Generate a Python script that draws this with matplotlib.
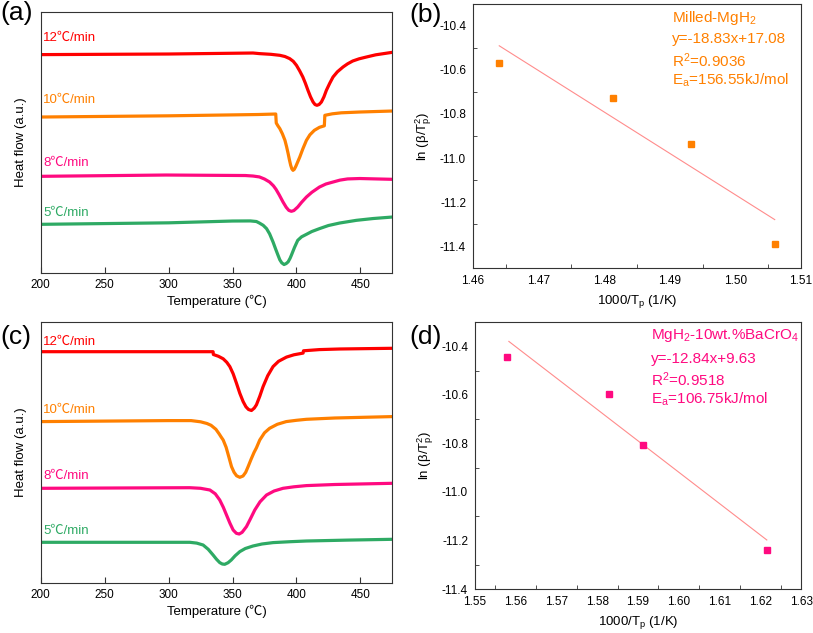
import matplotlib
matplotlib.use('Agg')
import matplotlib.pyplot as plt
from matplotlib.ticker import MultipleLocator

plt.rcParams['font.family'] = ['Liberation Sans', 'Noto Sans CJK SC', 'DejaVu Sans']
plt.rcParams['mathtext.fontset'] = 'custom'
plt.rcParams['mathtext.rm'] = 'Liberation Sans'
plt.rcParams['mathtext.it'] = 'Liberation Sans'
plt.rcParams['axes.edgecolor'] = '#333333'

# cores das curvas
cores = ['#FF0000', '#FF8000', '#FF0A80', '#2EAA64']
rotulos = ['12℃/min', '10℃/min', '8℃/min', '5℃/min']

# (a) DSC do MgH2 moído - temperatura (℃) e fluxo de calor (u.a.)
a_12_t = [200, 250, 300, 366, 371, 380, 387, 391, 394.7, 397.5, 400, 402.5, 405, 407, 409, 411, 413, 414.5,
          416, 417.7, 419.5, 421.5, 423.4, 426, 428.6, 432, 436.4, 440, 444, 449, 454.7, 462, 475]
a_12_y = [218.7, 219, 219.3, 220.3, 219.7, 219, 218, 216.8, 214.7, 212, 208, 202.5, 196.3, 190, 183, 176.5, 171.3, 168.8,
          168, 168.8, 171.3, 176.5, 183, 190, 196.3, 201.5, 206.3, 209.5, 212.3, 214.5, 216.3, 218.5, 221]
a_10_t = [200, 300, 370, 383.8, 384.2, 385.5, 387, 389, 391, 392.3, 393.5, 394.5, 395.5, 396.4, 397.3, 398.3, 399.5,
          401, 402.6, 405, 407.8, 410.5, 414, 418, 421.8, 422.2, 428, 435, 449.5, 475]
a_10_y = [156.3, 157.5, 158.8, 159.3, 150.3, 147.5, 144.7, 139.5, 133, 126.5, 119.7, 113.5, 108, 104.5, 103, 104, 107,
          111.5, 116.3, 124.5, 133, 138.5, 143, 146, 147.5, 158, 159.5, 160.5, 161.3, 162.3]
a_8_t = [200, 298, 360, 366, 371, 375, 379, 382, 384, 386.5, 389.5, 392, 394, 396, 398, 401, 404, 407.8, 412, 418,
         423, 428.6, 434, 440, 449.5, 475]
a_8_y = [97, 98.3, 97.8, 97.3, 96.4, 94.3, 91.3, 87.5, 84, 78.5, 71.3, 66, 63, 62, 62.8, 66.3, 71, 76.3, 81, 86.3,
         89.3, 91.3, 93.2, 94.4, 94.8, 94]
a_5_t = [200, 300, 350, 364, 368.7, 371, 374, 376.6, 379, 381.7, 383.8, 385.6, 387, 388.5, 390.3, 392, 393.5, 395,
         396, 398.5, 401, 404, 407.8, 412, 418, 425, 433.8, 446.9, 460, 475]
a_5_y = [49, 50.5, 52.3, 52.4, 51.8, 50.3, 48, 44.7, 39.5, 31.3, 24, 18, 13.5, 10.5, 8.8, 9.8, 11.5, 15,
         18, 26, 33, 36.5, 39, 41.8, 44.7, 47.8, 50.3, 53, 54.8, 56.3]

# (c) DSC do MgH2-10wt.%BaCrO4
c_12_t = [200, 300, 334.8, 335, 339, 342.7, 345.5, 347.9, 350.5, 353.1, 355.7, 358.3, 360.5, 362.5, 364.8, 367,
          368.7, 371.3, 373.9, 377.5, 381.7, 386, 392.2, 398, 405.2, 405.5, 418, 433.8, 475]
c_12_y = [231.6, 231.6, 231.6, 228.8, 227, 224.5, 221, 216.7, 209.5, 200, 190, 181.7, 176.5, 173.8, 172.8, 175.2,
          178.5, 187, 196.7, 207.5, 216.7, 222, 226.2, 228.5, 230.2, 232.5, 233.7, 234.3, 235]
c_10_t = [200, 300, 317.6, 325, 330, 333.2, 337, 339.5, 341, 342.7, 345, 347.2, 349.2, 351.2, 353.2, 355.7, 358.2,
          360.3, 362.2, 364.5, 366.8, 368.7, 371.3, 375, 379, 385, 392, 400, 407.8, 430, 475]
c_10_y = [161.7, 162.7, 162.7, 161.5, 159.8, 158, 154, 149.5, 146.5, 143.3, 136, 126, 116.7, 111, 107.5, 106, 107.3,
          111, 116.7, 124, 130.8, 135.5, 143.3, 150.5, 155, 159, 161.7, 163, 164, 165.3, 166.7]
c_8_t = [200, 316.6, 325, 332.3, 336.5, 340, 342.8, 345.3, 348, 350.5, 353, 355.2, 357.5, 360.9, 364, 367.4, 371.5,
         376.6, 382.5, 389.5, 398, 407.8, 430, 475]
c_8_y = [95, 95.6, 95, 93.3, 89.5, 83.3, 76, 68.3, 60, 53.3, 50, 49.3, 51, 56.7, 64.5, 73.3, 81.5,
         88.3, 92.3, 95, 96.5, 97.7, 98.8, 100]
c_5_t = [200, 316.6, 322, 327, 331, 334.8, 337.5, 340, 342, 343.9, 346.5, 349, 352, 355.7, 360, 366, 373, 381.7,
         395, 407.8, 440, 475]
c_5_y = [41, 41, 40.2, 38.3, 34, 28.3, 24, 20.7, 19.3, 19, 20.6, 23.3, 27.5, 31.7, 34.8, 37.3, 39.3, 40.7,
         41.6, 42.3, 43.2, 44]

# (b) Kissinger - MgH2 moído
b_x = [1.4640, 1.4813, 1.4933, 1.5061]
b_y = [-10.57, -10.729, -10.935, -11.389]
b_ajuste_x = [1.464, 1.506]
b_ajuste_y = [-10.49, -11.28]
b_textos = ['Milled-MgH$_2$', 'y=-18.83x+17.08', 'R$^2$=0.9036', 'E$_a$=156.55kJ/mol']

# (d) Kissinger - MgH2-10wt.%BaCrO4
d_x = [1.5578, 1.5829, 1.5912, 1.6216]
d_y = [-10.445, -10.595, -10.808, -11.241]
d_ajuste_x = [1.5583, 1.6216]
d_ajuste_y = [-10.38, -11.198]
d_textos = ['MgH$_2$-10wt.%BaCrO$_4$', 'y=-12.84x+9.63', 'R$^2$=0.9518', 'E$_a$=106.75kJ/mol']

fig = plt.figure(figsize=(8.13, 6.33), dpi=100)

ax_a = fig.add_axes([0.0501, 0.5682, 0.4325, 0.4133])
ax_c = fig.add_axes([0.0501, 0.0785, 0.4325, 0.4133])
ax_b = fig.add_axes([0.5818, 0.5766, 0.4034, 0.4171])
ax_d = fig.add_axes([0.5843, 0.0695, 0.4010, 0.4218])


def painel_dsc(ax, curvas, pos_rotulos):
    for (t, y), cor in zip(curvas, cores):
        ax.plot(t, y, color=cor, lw=2.3, solid_capstyle='round', solid_joinstyle='round')
    for rot, yr, cor in zip(rotulos, pos_rotulos, cores):
        ax.text(201.8, yr, rot, color=cor, fontsize=9.5, va='center', ha='left')
    ax.set_xlim(200, 475)
    ax.set_ylim(0, 261.6)
    ax.set_xticks([200, 250, 300, 350, 400, 450])
    ax.set_yticks([])
    ax.tick_params(axis='x', direction='in', length=4, labelsize=8.5, color='#333333', pad=4)
    ax.set_xlabel('Temperature (℃)', fontsize=9.5, labelpad=3)
    ax.set_ylabel('Heat flow (a.u.)', fontsize=9.5, labelpad=10)


painel_dsc(ax_a, [(a_12_t, a_12_y), (a_10_t, a_10_y), (a_8_t, a_8_y), (a_5_t, a_5_y)],
           [235, 173, 110, 60])
painel_dsc(ax_c, [(c_12_t, c_12_y), (c_10_t, c_10_y), (c_8_t, c_8_y), (c_5_t, c_5_y)],
           [241, 173.3, 107.6, 52.6])


def painel_kissinger(ax, x, y, ax_x, ax_y, textos, cor, xlim, ylim, xpasso, ypasso, texto_x, texto_y):
    ax.plot(ax_x, ax_y, color='#FF8C8C', lw=0.8)
    ax.plot(x, y, 's', color=cor, ms=4.3, mec=cor)
    ax.set_xlim(*xlim)
    ax.set_ylim(*ylim)
    ax.xaxis.set_major_locator(MultipleLocator(xpasso))
    ax.xaxis.set_minor_locator(MultipleLocator(xpasso / 2))
    ax.yaxis.set_major_locator(MultipleLocator(ypasso))
    ax.yaxis.set_minor_locator(MultipleLocator(ypasso / 2))
    ax.xaxis.set_major_formatter(plt.FuncFormatter(lambda v, p: f'{v:.2f}'))
    ax.yaxis.set_major_formatter(plt.FuncFormatter(lambda v, p: f'{v:.1f}'))
    ax.tick_params(which='major', length=0, labelsize=8.5, pad=5)
    ax.tick_params(which='minor', direction='in', length=3, color='#333333')
    ax.set_xlabel('1000/T$_p$ (1/K)', fontsize=9.5, labelpad=4)
    ax.set_ylabel(r'ln (β/T$_p^2$)', fontsize=9.5, labelpad=4)
    for i, txt in enumerate(textos):
        ax.text(texto_x, texto_y[i], txt, color=cor, fontsize=11, va='center', ha='left',
                transform=ax.transAxes)


painel_kissinger(ax_b, b_x, b_y, b_ajuste_x, b_ajuste_y, b_textos, '#FF8000',
                 (1.46, 1.51), (-11.5, -10.3), 0.01, 0.2, 0.607,
                 [0.948, 0.866, 0.785, 0.712])

painel_kissinger(ax_d, d_x, d_y, d_ajuste_x, d_ajuste_y, d_textos, '#FF0A80',
                 (1.55, 1.63), (-11.4, -10.3), 0.01, 0.2, 0.54,
                 [0.948, 0.861, 0.785, 0.710])

# rótulos dos painéis
fig.text(0.0, 0.979, '(a)', fontsize=19, va='center', ha='left')
fig.text(0.504, 0.976, '(b)', fontsize=19, va='center', ha='left')
fig.text(0.0, 0.468, '(c)', fontsize=19, va='center', ha='left')
fig.text(0.504, 0.468, '(d)', fontsize=19, va='center', ha='left')

fig.savefig('out.png', dpi=100)
